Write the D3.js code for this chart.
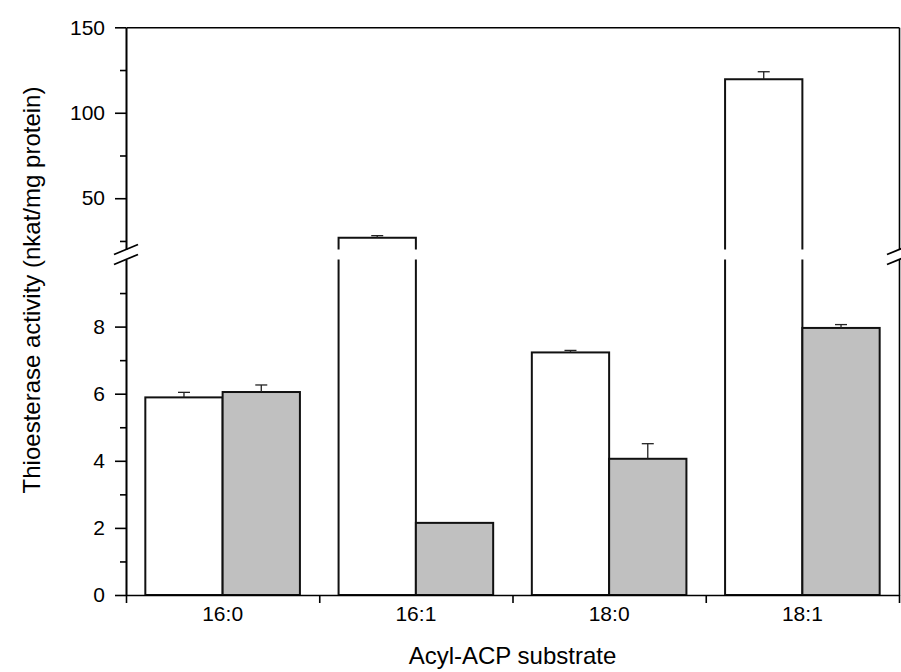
<!DOCTYPE html>
<html>
<head>
<meta charset="utf-8">
<script src="https://cdn.jsdelivr.net/npm/d3@7"></script>
<style>
  body { margin: 0; background: #fff; }
  svg text { font-family: "Liberation Sans", Arial, sans-serif; fill: #000; }
</style>
</head>
<body>
<svg id="chart" width="901" height="672"></svg>
<script>
// substrates on the x axis
var categories = ["16:0", "16:1", "18:0", "18:1"];
// open bars and their (upper) error
var openValues = [5.89, 26.9, 7.23, 119.6];
var openErrors = [0.15, 1.2, 0.06, 4.4];
// grey bars and their error
var greyValues = [6.05, 2.15, 4.06, 7.96];
var greyErrors = [0.21, 0, 0.45, 0.10];
// axis ticks, lower part and upper part of the broken axis
var lowTicks = [0, 2, 4, 6, 8];
var lowMinor = [1, 3, 5, 7, 9];
var highTicks = [50, 100, 150];
var highMinor = [25, 75, 125];

var plotLeft = 126, plotRight = 899, plotBottom = 595, plotTop = 27.3;
var lowTop = 259.5, highBottom = 249.5;

var svg = d3.select("#chart");

var x = d3.scaleBand().domain(categories).range([plotLeft, plotRight])
    .paddingInner(0.2).paddingOuter(0.1);
var xs = d3.scaleBand().domain(["open", "grey"]).range([0, x.bandwidth()]);
var xEdge = d3.scaleLinear().domain([0, categories.length]).range([plotLeft, plotRight]);

var yLow = d3.scaleLinear().domain([0, 10]).range([plotBottom, lowTop]);
var yHigh = d3.scaleLinear().domain([20, 150]).range([highBottom, plotTop]);

var rows = categories.map(function (c, i) {
    return [
        {cat: c, s: "open", v: openValues[i], e: openErrors[i], fill: "#ffffff"},
        {cat: c, s: "grey", v: greyValues[i], e: greyErrors[i], fill: "#c0c0c0"}
    ];
}).flat();

// bars
var g = svg.append("g");
rows.forEach(function (d) {
    var x0 = x(d.cat) + xs(d.s), w = xs.bandwidth();
    if (d.v <= 10) {
        var yt = yLow(d.v);
        g.append("rect")
            .attr("x", x0).attr("y", yt)
            .attr("width", w).attr("height", plotBottom - yt)
            .attr("fill", d.fill)
            .attr("stroke", "#111").attr("stroke-width", 2);
    } else {
        // broken bar: upper piece and lower piece, no outline across the gap
        var yt2 = yHigh(d.v);
        g.append("rect").attr("x", x0).attr("y", yt2)
            .attr("width", w).attr("height", highBottom - yt2)
            .attr("fill", d.fill);
        g.append("rect").attr("x", x0).attr("y", lowTop)
            .attr("width", w).attr("height", plotBottom - lowTop)
            .attr("fill", d.fill);
        g.append("path")
            .attr("d", "M" + x0 + "," + highBottom + "V" + yt2 + "H" + (x0 + w) + "V" + highBottom)
            .attr("fill", "none").attr("stroke", "#111").attr("stroke-width", 2);
        g.append("path")
            .attr("d", "M" + x0 + "," + lowTop + "V" + plotBottom + "H" + (x0 + w) + "V" + lowTop)
            .attr("fill", "none").attr("stroke", "#111").attr("stroke-width", 2);
    }
    // error bar (upward only)
    if (d.e > 0) {
        var yScale = d.v <= 10 ? yLow : yHigh;
        var cx = x0 + w / 2;
        g.append("line")
            .attr("x1", cx).attr("x2", cx)
            .attr("y1", yScale(d.v)).attr("y2", yScale(d.v + d.e))
            .attr("stroke", "#222").attr("stroke-width", 1.3);
        g.append("line")
            .attr("x1", cx - 6).attr("x2", cx + 6)
            .attr("y1", yScale(d.v + d.e)).attr("y2", yScale(d.v + d.e))
            .attr("stroke", "#222").attr("stroke-width", 1.3);
    }
});

function styleAxis(sel) {
    sel.selectAll("path, line").attr("stroke", "#000").attr("stroke-width", 1.6);
    sel.selectAll("text").style("font-size", "21px")
        .style("font-family", "'Liberation Sans', Arial, sans-serif");
}

// left axis, lower part
svg.append("g").attr("transform", "translate(" + plotLeft + ",0)")
    .call(d3.axisLeft(yLow).tickValues(lowTicks).tickSize(11).tickSizeOuter(0).tickPadding(10))
    .call(styleAxis);
svg.append("g").attr("transform", "translate(" + plotLeft + ",0)")
    .call(d3.axisLeft(yLow).tickValues(lowMinor).tickSize(6).tickSizeOuter(0).tickFormat(""))
    .call(styleAxis);
// left axis, upper part
svg.append("g").attr("transform", "translate(" + plotLeft + ",0)")
    .call(d3.axisLeft(yHigh).tickValues(highTicks).tickSize(11).tickSizeOuter(0).tickPadding(10))
    .call(styleAxis);
svg.append("g").attr("transform", "translate(" + plotLeft + ",0)")
    .call(d3.axisLeft(yHigh).tickValues(highMinor).tickSize(6).tickSizeOuter(0).tickFormat(""))
    .call(styleAxis);

// right axis lines
svg.append("g").attr("transform", "translate(" + plotRight + ",0)")
    .call(d3.axisRight(yLow).tickValues([]).tickSizeOuter(0))
    .call(styleAxis);
svg.append("g").attr("transform", "translate(" + plotRight + ",0)")
    .call(d3.axisRight(yHigh).tickValues([]).tickSizeOuter(0))
    .call(styleAxis);

// top frame
svg.append("g").attr("transform", "translate(0," + plotTop + ")")
    .call(d3.axisTop(xEdge).tickValues([]).tickSizeOuter(0))
    .call(styleAxis);

// bottom axis: ticks at the category edges, labels in the middle
svg.append("g").attr("transform", "translate(0," + plotBottom + ")")
    .call(d3.axisBottom(xEdge).ticks(categories.length).tickSize(8).tickSizeOuter(0).tickFormat(""))
    .call(styleAxis);
svg.append("g").attr("transform", "translate(0," + plotBottom + ")")
    .call(d3.axisBottom(x).tickSize(0).tickPadding(11))
    .call(styleAxis)
    .call(function (s) { s.select(".domain").remove(); });

// axis break marks
function breakMark(xc) {
    [highBottom, lowTop].forEach(function (yc) {
        svg.append("line")
            .attr("x1", xc - 12).attr("y1", yc + 5)
            .attr("x2", xc + 12).attr("y2", yc - 5)
            .attr("stroke", "#000").attr("stroke-width", 1.8);
    });
}
breakMark(plotLeft);
breakMark(plotRight);

// axis titles
svg.append("text")
    .attr("transform", "translate(40," + 290 + ") rotate(-90)")
    .attr("text-anchor", "middle")
    .style("font-size", "24px")
    .text("Thioesterase activity (nkat/mg protein)");

svg.append("text")
    .attr("x", (plotLeft + plotRight) / 2).attr("y", 664)
    .attr("text-anchor", "middle")
    .style("font-size", "24px")
    .text("Acyl-ACP substrate");
</script>
</body>
</html>
